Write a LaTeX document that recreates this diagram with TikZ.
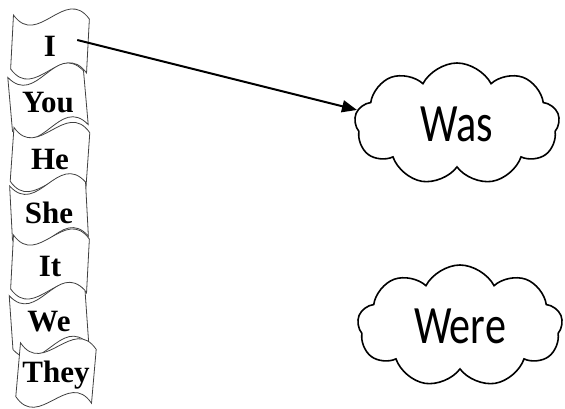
\documentclass[tikz,border=0pt]{standalone}
\usepackage{fontspec}
\usepackage{tikz}
\usetikzlibrary{shapes,shapes.symbols,arrows.meta}
\newfontfamily\flagfont{Liberation Serif}
\newfontfamily\cloudfont[FakeStretch=0.78]{Carlito}
\tikzstyle{arrow} = [line width=2pt,-{Triangle[length=15pt,width=12pt]}]
\tikzstyle{flagline} = [draw=black!75, fill=white, line width=0.8pt]
\tikzstyle{flagtext} = [font=\flagfont\bfseries\fontsize{31}{33}\selectfont, inner sep=1pt]
\tikzstyle{puff} = [cloud, cloud puffs=9, cloud puff arc=125, aspect=1.7, draw=black, line width=1.6pt, minimum width=205pt, minimum height=122pt, font=\cloudfont\fontsize{54}{56}\selectfont]

% name, x, y, tilt, text
\newcommand{\flag}[5]{%
  \draw[flagline, shift={(#2,#3)}, rotate=#4]
    (-38,-27) .. controls (-12,5) and (12,-59) .. (38,-27)
    -- (38,27) .. controls (12,-5) and (-12,59) .. (-38,27) -- cycle;
  \node (#1) [flagtext] at (#2,#3+2) {#5};
}

\begin{document}
\begin{tikzpicture}[x=1pt, y=-1pt]
    \useasboundingbox (0,0) rectangle (565,408);

        % pronouns
        \flag{I}{50}{44}{-3}{I}
        \flag{you}{48}{101}{5}{You}
        \flag{he}{50}{157}{-4}{He}
        \flag{she}{49}{211}{3}{She}
        \flag{it}{50}{264}{-3}{It}
        \flag{we}{49}{320}{4}{We}
        \flag{they}{56}{373}{-5}{They}

        % verbs
        \node (was) [puff] at (457,124) {Was};
        \node (were) [puff] at (460,326) {Were};

        \draw[arrow] ([xshift=20pt,yshift=6pt]I.east) -- (was.172);

    \end{tikzpicture}
\end{document}
